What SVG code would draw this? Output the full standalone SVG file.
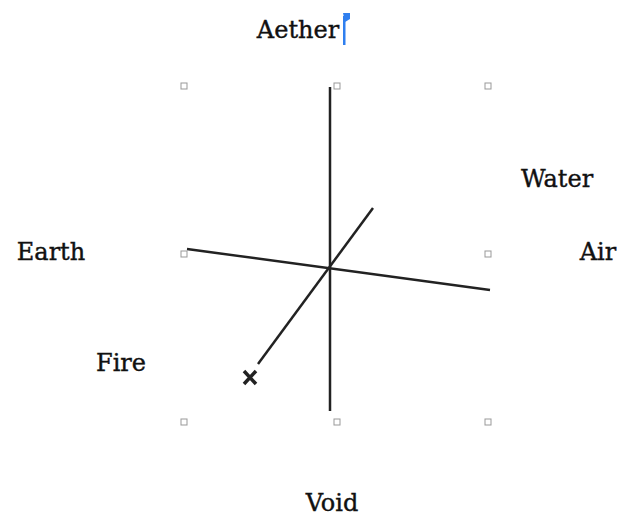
<svg xmlns="http://www.w3.org/2000/svg" width="617" height="516" viewBox="0 0 617 516">
<style>
.lbl{font-family:"DejaVu Serif","Liberation Serif",serif;font-size:24px;fill:#111;stroke:#111;stroke-width:0.4}
.h{fill:#fff;stroke:#999;stroke-width:1}
.ax{stroke:#222;stroke-width:2.5;fill:none}
</style>
<rect width="617" height="516" fill="#fff"/>
<g id="handles">
<rect class="h" x="181" y="83" width="6" height="6"/>
<rect class="h" x="334" y="83" width="6" height="6"/>
<rect class="h" x="485" y="83" width="6" height="6"/>
<rect class="h" x="181" y="251" width="6" height="6"/>
<rect class="h" x="485" y="251" width="6" height="6"/>
<rect class="h" x="181" y="419" width="6" height="6"/>
<rect class="h" x="334" y="419" width="6" height="6"/>
<rect class="h" x="485" y="419" width="6" height="6"/>
</g>
<g id="connectors">
<line class="ax" x1="330" y1="87" x2="330" y2="411"/>
<line class="ax" x1="187" y1="249" x2="490" y2="290"/>
<line class="ax" x1="373" y1="208" x2="258" y2="364"/>
<path d="M244 371 L256 384 M256 371 L244 384" stroke="#222" stroke-width="3.5"/>
</g>
<g id="aether"><text class="lbl" x="298" y="38" text-anchor="middle">Aether</text></g>
<g id="cursor"><rect x="343" y="16" width="2.5" height="29" fill="#2f7fef"/><path d="M343 13 L350 13 L350 19 L345 22 Z" fill="#2f7fef"/></g>
<g id="water"><text class="lbl" x="557" y="187" text-anchor="middle">Water</text></g>
<g id="earth"><text class="lbl" x="51" y="260" text-anchor="middle">Earth</text></g>
<g id="air"><text class="lbl" x="598" y="260" text-anchor="middle">Air</text></g>
<g id="fire"><text class="lbl" x="121" y="371" text-anchor="middle">Fire</text></g>
<g id="void"><text class="lbl" x="332" y="511" text-anchor="middle">Void</text></g>
</svg>
